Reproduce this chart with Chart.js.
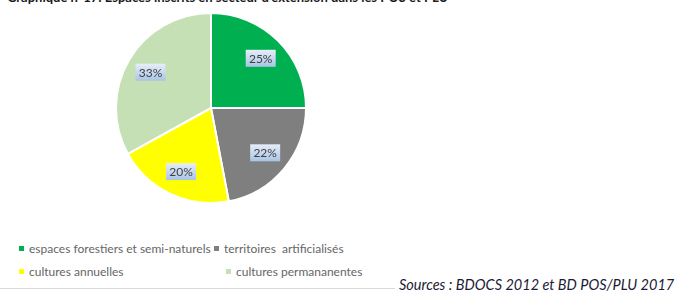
<!DOCTYPE html>
<html><head><meta charset="utf-8">
<script src="https://cdn.jsdelivr.net/npm/chart.js@4"></script>
<style>
html,body{margin:0;padding:0;background:#fff;width:695px;height:291px;overflow:hidden;position:relative;font-family:"Lato","Liberation Sans",sans-serif;}
#title{position:absolute;left:7px;top:-11px;font-size:13px;font-weight:bold;color:#1a1a1a;white-space:nowrap;}
#pie{position:absolute;left:115px;top:12px;width:192px;height:192px;}
.lg{position:absolute;font-size:12px;color:#666666;white-space:pre;}
.lg i{display:inline-block;width:5px;height:5px;margin-right:5px;vertical-align:middle;position:relative;top:-1px;}
#rule{position:absolute;left:0;top:288px;width:395px;height:1px;background:#d9d9d9;}
#src{position:absolute;left:399px;top:276px;font-size:14.5px;font-style:italic;color:#1b1b33;white-space:nowrap;}
</style></head>
<body>
<div id="title">Graphique n°17: Espaces inscrits en secteur d'extension dans les POS et PLU</div>
<div id="pie"><canvas id="c"></canvas></div>
<div id="legend"></div>
<div id="rule"></div>
<div id="src">Sources : BDOCS 2012 et BD POS/PLU 2017</div>
<script>
const categories = ["espaces forestiers et semi-naturels", "territoires  artificialisés", "cultures annuelles", "cultures permananentes"];
const values = [25, 22, 20, 33];
const colors = ["#00B050", "#7F7F7F", "#FFFF00", "#C5E0B4"];

// legend (HTML text)
const legendPos = [[19,241],[214,241],[19,264],[226,264]];
const lg = document.getElementById('legend');
categories.forEach((c,i)=>{
  const d = document.createElement('div');
  d.className='lg';
  d.style.left = legendPos[i][0]+'px';
  d.style.top = legendPos[i][1]+'px';
  d.innerHTML = '<i style="background:'+colors[i]+'"></i>';
  d.appendChild(document.createTextNode(c));
  lg.appendChild(d);
});

const labelPlugin = {
  id:'boxLabels',
  afterDatasetsDraw(chart){
    const ctx = chart.ctx;
    const meta = chart.getDatasetMeta(0);
    meta.data.forEach((arc,i)=>{
      const p = arc.getProps(['x','y','startAngle','endAngle','outerRadius']);
      const a = (p.startAngle+p.endAngle)/2;
      const r = p.outerRadius*0.74;
      const x = p.x + Math.cos(a)*r, y = p.y + Math.sin(a)*r;
      const w = 30, h = 17;
      const g = ctx.createLinearGradient(0,y-h/2,0,y+h/2);
      g.addColorStop(0,'#e6eef8');
      g.addColorStop(1,'#a9c4e6');
      ctx.save();
      ctx.fillStyle = g;
      ctx.fillRect(x-w/2,y-h/2,w,h);
      ctx.fillStyle = '#404040';
      ctx.font = '12px "Lato","Liberation Sans",sans-serif';
      ctx.textAlign='center'; ctx.textBaseline='middle';
      ctx.fillText(chart.data.datasets[0].data[i]+'%', x, y+0.5);
      ctx.restore();
    });
  }
};

new Chart(document.getElementById('c'),{
  type:'pie',
  data:{labels:categories,datasets:[{data:values,backgroundColor:colors,borderColor:'#ffffff',borderWidth:2}]},
  options:{responsive:true,maintainAspectRatio:false,animation:false,
    layout:{padding:0},
    plugins:{legend:{display:false},tooltip:{enabled:false}}},
  plugins:[labelPlugin]
});
</script>
</body></html>
